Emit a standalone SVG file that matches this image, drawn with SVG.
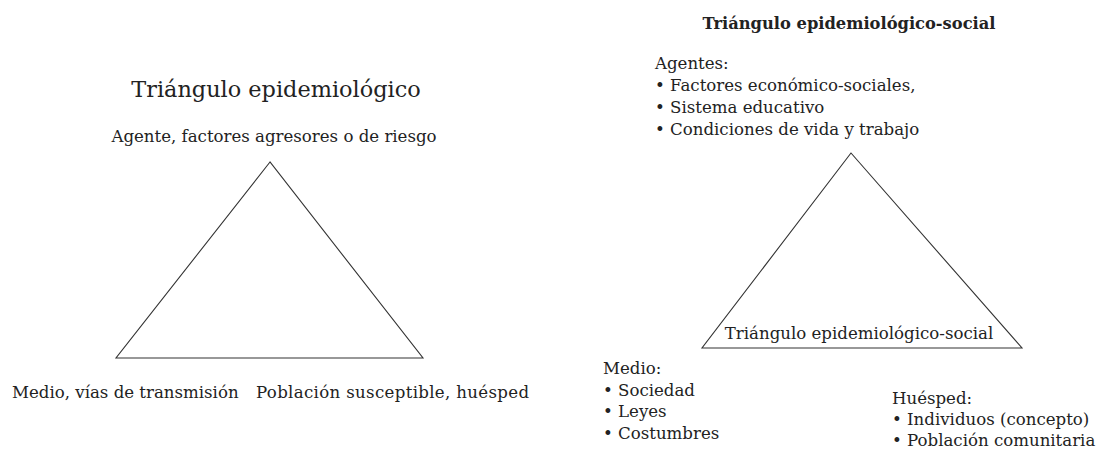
<svg xmlns="http://www.w3.org/2000/svg" width="1101" height="450" viewBox="0 0 1101 450">
<style>
text{font-family:"DejaVu Serif","Liberation Serif",serif;fill:#222;font-size:16.6px}
.title{font-size:22.4px}
.bold{font-weight:bold;font-size:16.3px}
.tri{fill:none;stroke:#333;stroke-width:1.1}
.mid{text-anchor:middle}
</style>
<rect width="1101" height="450" fill="#fff"/>
<g id="left-diagram">
  <text class="title mid" x="276" y="97">Triángulo epidemiológico</text>
  <g id="left-triangle"><polygon class="tri" points="270,162 116,358 423,358"/></g>
  <g id="agente"><text class="mid" x="274" y="142">Agente, factores agresores o de riesgo</text></g>
  <g id="medio"><text x="12" y="398">Medio, vías de transmisión</text></g>
  <g id="poblacion"><text x="256" y="398" textLength="273">Población susceptible, huésped</text></g>
</g>
<g id="right-diagram">
  <text class="bold mid" x="849" y="29">Triángulo epidemiológico-social</text>
  <g id="right-triangle"><polygon class="tri" points="851,153 702,348 1022,348"/>
    <text class="mid" x="859" y="339">Triángulo epidemiológico-social</text></g>
  <g id="agentes">
    <text x="655" y="69">Agentes:</text>
    <text x="655" y="91">• Factores económico-sociales,</text>
    <text x="655" y="113">• Sistema educativo</text>
    <text x="655" y="135">• Condiciones de vida y trabajo</text>
  </g>
  <g id="medio-social">
    <text x="603" y="374">Medio:</text>
    <text x="603" y="396">• Sociedad</text>
    <text x="603" y="417">• Leyes</text>
    <text x="603" y="439">• Costumbres</text>
  </g>
  <g id="huesped">
    <text x="892" y="404">Huésped:</text>
    <text x="892" y="425">• Individuos (concepto)</text>
    <text x="892" y="446">• Población comunitaria</text>
  </g>
</g>
<g id="connectors"></g>
</svg>
